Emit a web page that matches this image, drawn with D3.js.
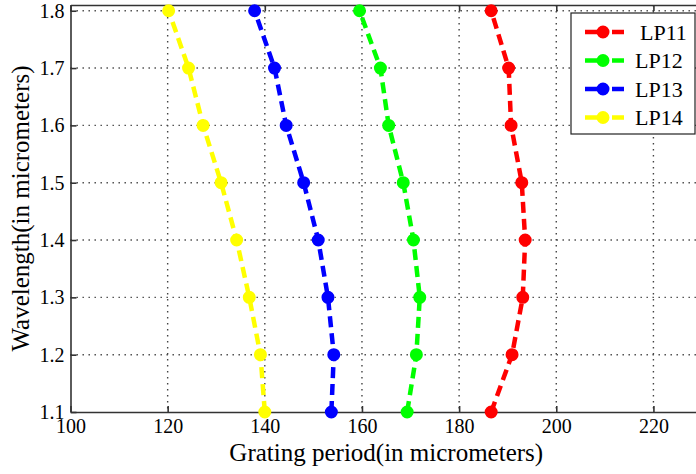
<!DOCTYPE html>
<html>
<head>
<meta charset="utf-8">
<script src="https://cdn.jsdelivr.net/npm/d3@7"></script>
<style>
    body { margin: 0; background: #fff; }
    svg { display: block; }
    svg text { font-family: 'Liberation Serif', 'Times New Roman', serif; fill: #000; }
</style>
</head>
<body>
<div id="chart"></div>
<script>
'use strict';

// Data
const wavelengths = [1.1, 1.2, 1.3, 1.4, 1.5, 1.6, 1.7, 1.8];
const lp11 = [186.6, 190.9, 193.1, 193.6, 192.9, 190.7, 190.2, 186.6];
const lp12 = [169.3, 171.2, 171.9, 170.6, 168.5, 165.5, 163.8, 159.5];
const lp13 = [153.7, 154.2, 153.0, 151.0, 148.0, 144.4, 142.0, 137.9];
const lp14 = [140.0, 139.1, 136.8, 134.2, 131.0, 127.3, 124.3, 120.2];
const seriesNames = ['LP11', 'LP12', 'LP13', 'LP14'];
const seriesColors = ['#ff0000', '#00ff00', '#0000ff', '#ffff00'];
const xTicks = [100, 120, 140, 160, 180, 200, 220];
const yTicks = [1.1, 1.2, 1.3, 1.4, 1.5, 1.6, 1.7, 1.8];

const series = [lp11, lp12, lp13, lp14].map((vals, i) => ({
    name: seriesNames[i],
    color: seriesColors[i],
    points: vals.map((x, j) => ({x: x, y: wavelengths[j]}))
}));

// Configs
const svgW = 696, svgH = 474;
const plot = {left: 70.5, right: 702, top: 5, bottom: 412};

// Tools
const xScale = d3.scaleLinear().domain([100, 230]).range([plot.left, plot.right]);
const yScale = d3.scaleLinear().domain([1.1, 1.81]).range([plot.bottom, plot.top]);

const svg = d3.select('#chart').append('svg')
    .attr('width', svgW)
    .attr('height', svgH);

// Grid
const gridG = svg.append('g').attr('class', 'gridG');
gridG.selectAll('.vgrid')
    .data(xTicks.filter(t => t > 100))
    .join('line')
    .attr('x1', d => xScale(d)).attr('x2', d => xScale(d))
    .attr('y1', plot.top).attr('y2', plot.bottom)
    .attr('stroke', '#444').attr('stroke-width', 1.4)
    .attr('stroke-dasharray', '1.4,4.6');
gridG.selectAll('.hgrid')
    .data(yTicks.filter(t => t > 1.1))
    .join('line')
    .attr('x1', plot.left).attr('x2', plot.right)
    .attr('y1', d => yScale(d)).attr('y2', d => yScale(d))
    .attr('stroke', '#444').attr('stroke-width', 1.4)
    .attr('stroke-dasharray', '1.4,4.6');

// Axes (MATLAB-like inward ticks)
const axisG = svg.append('g').attr('class', 'axisG');
const xAxisB = d3.axisBottom(xScale).tickValues(xTicks).tickSizeInner(-6).tickSizeOuter(0).tickPadding(6);
const xAxisT = d3.axisTop(xScale).tickValues(xTicks).tickSizeInner(-6).tickSizeOuter(0).tickFormat('');
const yAxisL = d3.axisLeft(yScale).tickValues(yTicks).tickSizeInner(-6).tickSizeOuter(0).tickPadding(6)
    .tickFormat(d3.format('.1f'));

const bx = axisG.append('g').attr('transform', `translate(0,${plot.bottom})`).call(xAxisB);
const tx = axisG.append('g').attr('transform', `translate(0,${plot.top})`).call(xAxisT);
const ly = axisG.append('g').attr('transform', `translate(${plot.left},0)`).call(yAxisL);

[bx, tx, ly].forEach(g => {
    g.attr('font-family', null);
    g.selectAll('path, line').attr('stroke', '#333').attr('stroke-width', 1.6);
    g.selectAll('text').attr('fill', '#000').style('font-size', '20px');
});
bx.selectAll('text').attr('dy', '0.75em');

// Labels
svg.append('text')
    .attr('x', (plot.left + plot.right) / 2)
    .attr('y', 461)
    .attr('text-anchor', 'middle')
    .style('font-size', '25px')
    .text('Grating period(in micrometers)');
svg.append('text')
    .attr('transform', `translate(29,${(plot.top + plot.bottom) / 2}) rotate(-90)`)
    .attr('text-anchor', 'middle')
    .style('font-size', '25px')
    .text('Wavelength(in micrometers)');

// Lines
const line = d3.line().x(d => xScale(d.x)).y(d => yScale(d.y));
const seriesG = svg.append('g').attr('class', 'seriesG');
seriesG.selectAll('.seriesLine')
    .data(series)
    .join('path')
    .attr('class', 'seriesLine')
    .attr('d', d => line(d.points))
    .attr('fill', 'none')
    .attr('stroke', d => d.color)
    .attr('stroke-width', 4.5)
    .attr('stroke-dasharray', '11,6');

// Markers
seriesG.selectAll('.markerG')
    .data(series)
    .join('g')
    .attr('class', 'markerG')
    .each(function(s) {
        d3.select(this).selectAll('circle')
            .data(s.points)
            .join('circle')
            .attr('cx', d => xScale(d.x))
            .attr('cy', d => yScale(d.y))
            .attr('r', 5.5)
            .attr('fill', s.color)
            .attr('stroke', s.color)
            .attr('stroke-width', 2);
    });

// Legend
const legend = {x: 571, y: 13, w: 124, h: 121};
const legendG = svg.append('g').attr('class', 'legendG');
legendG.append('rect')
    .attr('x', legend.x).attr('y', legend.y)
    .attr('width', legend.w).attr('height', legend.h)
    .attr('fill', '#fff').attr('stroke', '#222').attr('stroke-width', 1.2);
const rows = legendG.selectAll('.legendRow')
    .data(series)
    .join('g')
    .attr('class', 'legendRow')
    .attr('transform', (d, i) => `translate(0,${32 + i * 28.5})`);
rows.append('line')
    .attr('x1', 585).attr('x2', 631)
    .attr('stroke', d => d.color)
    .attr('stroke-width', 4.5)
    .attr('stroke-dasharray', '20,7,12');
rows.append('circle')
    .attr('cx', 603).attr('r', 5.5)
    .attr('fill', d => d.color)
    .attr('stroke', d => d.color).attr('stroke-width', 2);
rows.append('text')
    .attr('x', (d, i) => i === 0 ? 640 : 635)
    .attr('y', 7.5)
    .style('font-size', '22px')
    .text(d => d.name);
</script>
</body>
</html>
